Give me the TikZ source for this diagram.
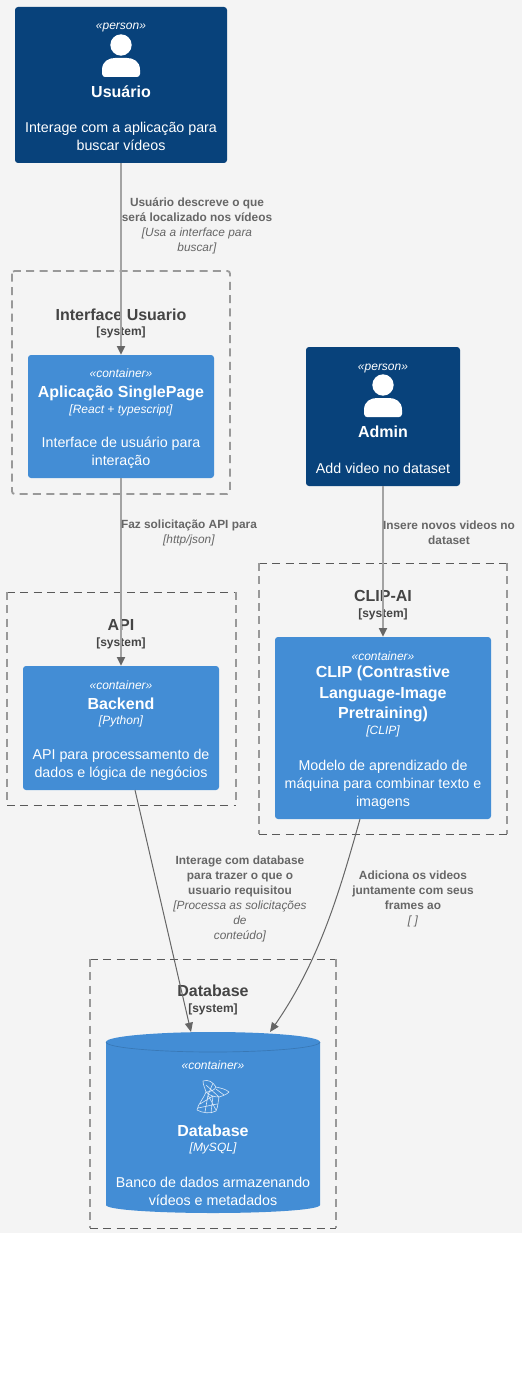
\documentclass[tikz,border=0pt]{standalone}
\usepackage{fontspec}
\setmainfont{Liberation Sans}
\usetikzlibrary{arrows.meta,positioning}
\definecolor{persondark}{HTML}{08427B}
\definecolor{containerblue}{HTML}{438DD5}
\definecolor{pagegray}{HTML}{F4F4F4}
\definecolor{edgegray}{HTML}{666666}
\definecolor{boundtext}{HTML}{444444}
\tikzset{
  box/.style={inner sep=0pt, rounded corners=2.25pt, draw=none},
  txt/.style={text=white, align=center, inner sep=0pt},
  stereo/.style={txt, font=\fontsize{9}{12}\selectfont\itshape},
  boxname/.style={txt, font=\fontsize{12}{15.4}\selectfont\bfseries},
  tech/.style={txt, font=\fontsize{9}{12}\selectfont\itshape},
  descr/.style={txt, font=\fontsize{10.7}{13.5}\selectfont},
  boundthick/.style={draw=black!40, dash pattern=on 6pt off 4pt, rounded corners=2pt, line width=1.4pt},
  boundthin/.style={draw=black!65, dash pattern=on 6pt off 4pt, line width=0.75pt},
  boundtitle/.style={text=boundtext, inner sep=0pt, font=\fontsize{12}{15}\selectfont\bfseries},
  boundtag/.style={text=boundtext, inner sep=0pt, font=\fontsize{9}{12}\selectfont\bfseries},
  edge/.style={draw=edgegray, line width=0.75pt, -{Triangle[length=7pt,width=6pt]}},
  edgewide/.style={draw=black!36, line width=1.5pt, -{Triangle[length=6.5pt,width=6pt,color=edgegray]}},
  edgelabel/.style={text=edgegray, align=center, inner sep=0pt, font=\fontsize{8.9}{11.25}\selectfont},
  personicon/.pic={
    \fill[white] (0,0) circle [radius=8pt];
    \fill[white] (-19,29) -- (-19,25) .. controls (-19,16) and (-12,13) .. (-6,13)
      -- (6,13) .. controls (12,13) and (19,16) .. (19,25) -- (19,29)
      .. controls (19,31) and (17,32) .. (16,32) -- (-16,32)
      .. controls (-17,32) and (-19,31) .. (-19,29) -- cycle;
  }
}
\begin{document}
\begin{tikzpicture}[x=0.75pt,y=-0.75pt]
  \useasboundingbox (0,0) rectangle (522,1380);
  % Page background
  \fill[pagegray] (0,0) rectangle (522,1233);
  % System boundaries
  \draw[boundthick] (12,271) rectangle (230,494);
  \foreach \xa/\ya/\xb/\yb in {7/592/236/805, 259/563/507/834, 90/959/336/1228}{
    \draw[boundthin] (\xa,\ya) -- (\xb,\ya) (\xa,\yb) -- (\xb,\yb);
    \draw[boundthick] (\xa,\ya) -- (\xa,\yb) (\xb,\ya) -- (\xb,\yb);
  }
  \node[boundtitle] (t1) at (121,315) {Interface Usuario};
  \node[boundtag] (s1) at (121,332) {[system]};
  \node[boundtitle] (t2) at (121,625) {API};
  \node[boundtag] (s2) at (121,643) {[system]};
  \node[boundtitle] (t3) at (383,596) {CLIP-AI};
  \node[boundtag] (s3) at (383,614) {[system]};
  \node[boundtitle] (t4) at (213,991) {Database};
  \node[boundtag] (s4) at (213,1009) {[system]};
  % Boxes
  \node[box, fill=persondark, minimum width=159pt, minimum height=117pt] (usuario) at (121,85) {};
  \node[box, fill=persondark, minimum width=115.5pt, minimum height=104.25pt] (admin) at (383,416.5) {};
  \node[box, fill=containerblue, minimum width=139.5pt, minimum height=92.25pt] (app) at (121,416.5) {};
  \node[box, fill=containerblue, minimum width=147pt, minimum height=93pt] (backend) at (121,728) {};
  \node[box, fill=containerblue, minimum width=162pt, minimum height=136.5pt] (clip) at (383,728) {};
  % Cylinder
  \fill[containerblue] (106,1042) .. controls (106,1036) and (160,1032) .. (213,1032)
    .. controls (266,1032) and (320,1036) .. (320,1042) -- (320,1205)
    .. controls (320,1210) and (266,1213) .. (213,1213)
    .. controls (160,1213) and (106,1210) .. (106,1205) -- cycle;
  \draw[containerblue!85!black, line width=0.5pt] (106,1042) .. controls (106,1048) and (160,1052) .. (213,1052)
    .. controls (266,1052) and (320,1048) .. (320,1042);
  % Database icon
  \draw[white!80!containerblue, line width=0.45pt, line join=round]
    (203,1081) .. controls (208,1079) and (213,1082) .. (216,1087)
    .. controls (220,1088) and (226,1089) .. (229,1092)
    .. controls (226,1095) and (222,1096) .. (219,1097)
    .. controls (218,1102) and (218,1107) .. (216,1111)
    .. controls (211,1114) and (202,1113) .. (197,1110)
    .. controls (198,1104) and (204,1098) .. (206,1092)
    .. controls (205,1088) and (203,1085) .. (203,1081) -- cycle
    (206,1092) .. controls (210,1092) and (215,1090) .. (216,1087)
    (206,1092) .. controls (210,1096) and (215,1097) .. (219,1097)
    (206,1085) -- (219,1097) (213,1083) -- (208,1095)
    (208,1095) -- (205,1112) (213,1096) -- (211,1113) (213,1096) -- (200,1104)
    (208,1095) -- (216,1110) (198,1108) -- (217,1104) (216,1089) -- (224,1095);
  % Person texts
  \node[stereo] (usuarioS) at (121,27.5) {«person»};
  \pic at (121,45) {personicon};
  \node[boxname] (usuarioN) at (121,91.5) {Usuário};
  \node[descr] (usuarioD) at (121,136) {Interage com a aplicação para\\buscar vídeos};
  \node[stereo] (adminS) at (383,368.5) {«person»};
  \pic at (383,385) {personicon};
  \node[boxname] (adminN) at (383,431.5) {Admin};
  \node[descr] (adminD) at (383,468) {Add video no dataset};
  % Container texts
  \node[stereo] (appS) at (121,373) {«container»};
  \node[boxname] (appN) at (121,393) {Aplicação SinglePage};
  \node[tech] (appT) at (121,410) {[React + typescript]};
  \node[descr] (appD) at (121,453) {Interface de usuário para\\interação};
  \node[stereo] (backendS) at (121,685) {«container»};
  \node[boxname] (backendN) at (121,703.5) {Backend};
  \node[tech] (backendT) at (121,721) {[Python]};
  \node[descr] (backendD) at (121,765) {API para processamento de\\dados e lógica de negócios};
  \node[stereo] (clipS) at (383,656) {«container»};
  \node[boxname] (clipN) at (383,694) {CLIP (Contrastive\\Language-Image\\Pretraining)};
  \node[tech] (clipT) at (383,731) {[CLIP]};
  \node[descr] (clipD) at (383,785) {Modelo de aprendizado de\\máquina para combinar texto e\\imagens};
  \node[stereo] (dbS) at (213,1065) {«container»};
  \node[boxname] (dbN) at (213,1130.5) {Database};
  \node[tech] (dbT) at (213,1148) {[MySQL]};
  \node[descr] (dbD) at (213,1191) {Banco de dados armazenando\\vídeos e metadados};
  % Connectors
  \draw[edgewide] (usuario) -- (app);
  \draw[edgewide] (app) -- (backend);
  \draw[edgewide] (admin) -- (clip);
  \coordinate (backendOut) at (135,790);
  \coordinate (dbInA) at (191,1032);
  \coordinate (clipOut) at (360,819);
  \coordinate (dbInB) at (270,1032);
  \draw[edge] (backendOut) -- (dbInA);
  \draw[edge] (clipOut) .. controls (340,890) and (320,960) .. (dbInB);
  % Edge labels
  \node[edgelabel] (l1) at (197,225.5) {\textbf{Usuário descreve o que}\\\textbf{será localizado nos vídeos}\\\textit{[Usa a interface para}\\\textit{buscar]}};
  \node[edgelabel] (l2) at (189,532.5) {\textbf{Faz solicitação API para}\\\textit{[http/json]}};
  \node[edgelabel] (l3) at (449,532.5) {\textbf{Insere novos videos no}\\\textbf{dataset}};
  \node[edgelabel] (l4) at (240,898.5) {\textbf{Interage com database}\\\textbf{para trazer o que o}\\\textbf{usuario requisitou}\\\textit{[Processa as solicitações}\\\textit{de}\\\textit{conteúdo]}};
  \node[edgelabel] (l5) at (413,898.5) {\textbf{Adiciona os videos}\\\textbf{juntamente com seus}\\\textbf{frames ao}\\\textit{[ ]}};
\end{tikzpicture}
\end{document}
